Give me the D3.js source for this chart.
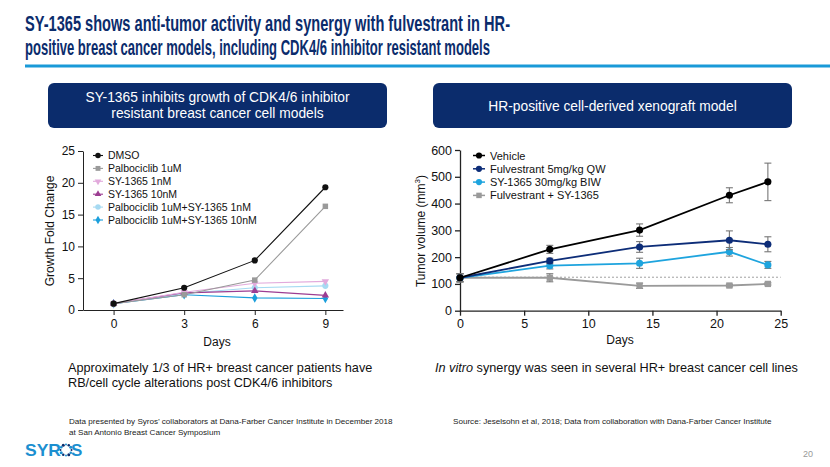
<!DOCTYPE html>
<html><head><meta charset="utf-8">
<script src="https://cdn.jsdelivr.net/npm/d3@7"></script>
<style>
html,body{margin:0;padding:0;background:#fff;}
svg{display:block;font-family:"Liberation Sans",Arial,sans-serif;}
</style></head>
<body>
<svg id="c" width="830" height="467"></svg>
<script>
// ---------- data ----------
const leftDays = [0, 3, 6, 9];
const leftSeriesNames = ["DMSO", "Palbociclib 1uM", "SY-1365 1nM", "SY-1365 10nM", "Palbociclib 1uM+SY-1365 1nM", "Palbociclib 1uM+SY-1365 10nM"];
const dmso = [1, 3.5, 7.8, 19.3];
const palbo = [1, 2.4, 4.7, 16.3];
const sy1nM = [1, 2.8, 4.2, 4.5];
const sy10nM = [1, 2.7, 3.0, 2.3];
const combo1nM = [1, 2.6, 3.5, 3.8];
const combo10nM = [1, 2.4, 1.9, 1.8];
const leftYTicks = [0, 5, 10, 15, 20, 25];
const leftXTicks = [0, 3, 6, 9];

const rightDays = [0, 7, 14, 21, 24];
const rightSeriesNames = ["Vehicle", "Fulvestrant 5mg/kg QW", "SY-1365 30mg/kg BIW", "Fulvestrant + SY-1365"];
const vehicle = [123, 229, 301, 431, 481];
const vehicleErr = [15, 15, 23, 28, 70];
const fulv = [123, 186, 238, 263, 248];
const fulvErr = [15, 10, 20, 35, 28];
const sy30 = [123, 168, 177, 220, 171];
const sy30Err = [15, 12, 19, 16, 13];
const combo = [123, 123, 93, 94, 100];
const comboErr = [15, 15, 10, 5, 4];
const baseline = 125;
const rightYTicks = [0, 100, 200, 300, 400, 500, 600];
const rightXTicks = [0, 5, 10, 15, 20, 25];

// ---------- drawing ----------
const svg = d3.select("#c");
svg.append("rect").attr("width", 830).attr("height", 467).attr("fill", "#fff");

const navy = "#0b2c6c";
// title
const titleLines = ["SY-1365 shows anti-tumor activity and synergy with fulvestrant in HR-",
                    "positive breast cancer models, including CDK4/6 inhibitor resistant models"];
const titleW = [485, 465];
titleLines.forEach((t, i) => {
  svg.append("text").attr("x", 25).attr("y", 30.5 + i * 24.5)
    .attr("font-size", 21.5).attr("font-weight", "bold").attr("fill", navy)
    .attr("textLength", titleW[i]).attr("lengthAdjust", "spacingAndGlyphs")
    .text(t);
});
svg.append("rect").attr("x", 25).attr("y", 64.5).attr("width", 805).attr("height", 3).attr("fill", "#1a9ad8");

// header boxes
function header(x, w, lines, ys) {
  svg.append("rect").attr("x", x).attr("y", 83).attr("width", w).attr("height", 45)
    .attr("rx", 6).attr("fill", navy);
  lines.forEach((t, i) => svg.append("text").attr("x", x + w / 2).attr("y", ys[i])
    .attr("text-anchor", "middle").attr("fill", "#fff").attr("font-size", 13.8).text(t));
}
header(48, 339, ["SY-1365 inhibits growth of CDK4/6 inhibitor", "resistant breast cancer cell models"], [101.5, 118]);
header(433, 359, ["HR-positive cell-derived xenograft model"], [111]);

// ---------- left chart ----------
const xL = d3.scaleLinear().domain([-1.3, 9.75]).range([83, 343]);
const yL = d3.scaleLinear().domain([0, 25]).range([310, 151]);
const gL = svg.append("g");
const axL = gL.append("g").attr("transform", "translate(0,310)")
  .call(d3.axisBottom(xL).tickValues(leftXTicks).tickSize(5).tickSizeOuter(0).tickPadding(4));
const ayL = gL.append("g").attr("transform", "translate(83,0)")
  .call(d3.axisLeft(yL).tickValues(leftYTicks).tickSize(5).tickSizeOuter(0).tickPadding(3));
[axL, ayL].forEach(a => {
  a.selectAll("path,line").attr("stroke", "#222").attr("stroke-width", 1);
  a.selectAll("text").attr("font-size", 12).attr("fill", "#111").attr("font-family", "Liberation Sans, Arial, sans-serif");
});
gL.append("text").attr("x", 217).attr("y", 346).attr("text-anchor", "middle").attr("font-size", 12).attr("fill", "#111").text("Days");
gL.append("text").attr("transform", "translate(54,231) rotate(-90)").attr("text-anchor", "middle")
  .attr("font-size", 12).attr("fill", "#111").text("Growth Fold Change");

const leftData = [dmso, palbo, sy1nM, sy10nM, combo1nM, combo10nM];
const leftColors = ["#111111", "#9a9a9a", "#e2aadc", "#9c3d92", "#a6daf2", "#1b9fdc"];
const leftSymbols = [d3.symbolCircle, d3.symbolSquare, d3.symbolTriangle, d3.symbolTriangle, d3.symbolCircle, d3.symbolDiamond];
const leftRot = [0, 0, 180, 0, 0, 0];
const leftSize = [30, 30, 24, 24, 30, 26];
const lineL = d3.line().x((d, i) => xL(leftDays[i])).y(d => yL(d));
// draw in reverse so DMSO on top
for (let k = leftData.length - 1; k >= 0; k--) {
  const vals = leftData[k];
  gL.append("path").attr("d", lineL(vals)).attr("fill", "none").attr("stroke", leftColors[k]).attr("stroke-width", 1.1);
  vals.forEach((v, i) => {
    gL.append("path").attr("d", d3.symbol(leftSymbols[k], leftSize[k])())
      .attr("transform", `translate(${xL(leftDays[i])},${yL(v)}) rotate(${leftRot[k]})`)
      .attr("fill", leftColors[k]);
  });
}
// legend left
leftSeriesNames.forEach((n, k) => {
  const y = 155.5 + k * 12.9;
  gL.append("line").attr("x1", 93).attr("x2", 103).attr("y1", y).attr("y2", y).attr("stroke", leftColors[k]).attr("stroke-width", 1.1);
  gL.append("path").attr("d", d3.symbol(leftSymbols[k], leftSize[k] * 0.8)())
    .attr("transform", `translate(98,${y}) rotate(${leftRot[k]})`).attr("fill", leftColors[k]);
  gL.append("text").attr("x", 108).attr("y", y + 3.8).attr("font-size", 10.5).attr("fill", "#111").text(n);
});

// ---------- right chart ----------
const xR = d3.scaleLinear().domain([0, 25]).range([460, 780.7]);
const yR = d3.scaleLinear().domain([0, 600]).range([310.7, 150]);
const gR = svg.append("g");
const axR = gR.append("g").attr("transform", "translate(0,310.7)")
  .call(d3.axisBottom(xR).tickValues(rightXTicks).tickSize(5).tickSizeOuter(0).tickPadding(3));
const ayR = gR.append("g").attr("transform", "translate(460,0)")
  .call(d3.axisLeft(yR).tickValues(rightYTicks).tickSize(5).tickSizeOuter(0).tickPadding(3));
[axR, ayR].forEach(a => {
  a.selectAll("path,line").attr("stroke", "#222").attr("stroke-width", 1.3);
  a.selectAll("text").attr("font-size", 12.5).attr("fill", "#111").attr("font-family", "Liberation Sans, Arial, sans-serif");
});
gR.append("text").attr("x", 620).attr("y", 344).attr("text-anchor", "middle").attr("font-size", 12).attr("fill", "#111").text("Days");
const yt = gR.append("text").attr("transform", "translate(425,231) rotate(-90)").attr("text-anchor", "middle")
  .attr("font-size", 12).attr("fill", "#111");
yt.append("tspan").text("Tumor volume (mm");
yt.append("tspan").attr("font-size", 8).attr("dy", -5).text("3");
yt.append("tspan").attr("dy", 5).text(")");

// dashed baseline
gR.append("line").attr("x1", xR(0)).attr("x2", xR(25)).attr("y1", yR(baseline)).attr("y2", yR(baseline))
  .attr("stroke", "#888").attr("stroke-width", 0.8).attr("stroke-dasharray", "2,2");

const rightData = [vehicle, fulv, sy30, combo];
const rightErr = [vehicleErr, fulvErr, sy30Err, comboErr];
const rightColors = ["#000000", "#0d2d78", "#1ea4de", "#9a9a9a"];
const rightSymbols = [d3.symbolCircle, d3.symbolCircle, d3.symbolCircle, d3.symbolSquare];
const lineR = d3.line().x((d, i) => xR(rightDays[i])).y(d => yR(d));
for (let k = rightData.length - 1; k >= 0; k--) {
  const vals = rightData[k], errs = rightErr[k];
  gR.append("path").attr("d", lineR(vals)).attr("fill", "none").attr("stroke", rightColors[k]).attr("stroke-width", 1.8);
  vals.forEach((v, i) => {
    const cx = xR(rightDays[i]);
    const ecol = "#777";
    gR.append("line").attr("x1", cx).attr("x2", cx).attr("y1", yR(v - errs[i])).attr("y2", yR(v + errs[i])).attr("stroke", ecol).attr("stroke-width", 1.1);
    [v - errs[i], v + errs[i]].forEach(e => gR.append("line").attr("x1", cx - 3.5).attr("x2", cx + 3.5).attr("y1", yR(e)).attr("y2", yR(e)).attr("stroke", ecol).attr("stroke-width", 1.1));
    gR.append("path").attr("d", d3.symbol(rightSymbols[k], 40)()).attr("transform", `translate(${cx},${yR(v)})`).attr("fill", rightColors[k]);
  });
}
rightSeriesNames.forEach((n, k) => {
  const y = 155.5 + k * 13.3;
  gR.append("line").attr("x1", 473).attr("x2", 485).attr("y1", y).attr("y2", y).attr("stroke", rightColors[k]).attr("stroke-width", 1.5);
  gR.append("path").attr("d", d3.symbol(rightSymbols[k], 30)()).attr("transform", `translate(479,${y})`).attr("fill", rightColors[k]);
  gR.append("text").attr("x", 490).attr("y", y + 4).attr("font-size", 11).attr("fill", "#111").text(n);
});

// ---------- captions ----------
svg.append("text").attr("x", 68).attr("y", 372).attr("font-size", 12.7).attr("fill", "#111").text("Approximately 1/3 of HR+ breast cancer patients have");
svg.append("text").attr("x", 68).attr("y", 387).attr("font-size", 12.7).attr("fill", "#111").text("RB/cell cycle alterations post CDK4/6 inhibitors");
const iv = svg.append("text").attr("x", 435).attr("y", 372).attr("font-size", 12.7).attr("fill", "#111");
iv.append("tspan").attr("font-style", "italic").text("In vitro");
iv.append("tspan").text(" synergy was seen in several HR+ breast cancer cell lines");

// footnotes
svg.append("text").attr("x", 69).attr("y", 424).attr("font-size", 8.1).attr("fill", "#222").text("Data presented by Syros’ collaborators at Dana-Farber Cancer Institute in December 2018");
svg.append("text").attr("x", 69).attr("y", 434.5).attr("font-size", 8.1).attr("fill", "#222").text("at San Antonio Breast Cancer Symposium");
svg.append("text").attr("x", 453).attr("y", 424).attr("font-size", 8.1).attr("fill", "#222").text("Source: Jeselsohn et al, 2018; Data from collaboration with Dana-Farber Cancer Institute");
svg.append("text").attr("x", 813).attr("y", 457).attr("text-anchor", "end").attr("font-size", 9).attr("fill", "#999").text("20");

// logo
const logo = svg.append("g");
logo.append("text").attr("x", 25).attr("y", 456).attr("font-size", 17).attr("font-weight", "bold").attr("fill", "#1c8fd0")
  .attr("textLength", 36).attr("lengthAdjust", "spacingAndGlyphs").text("SYR");
logo.append("text").attr("x", 71).attr("y", 456).attr("font-size", 17).attr("font-weight", "bold").attr("fill", "#1c8fd0").text("S");
const dots = d3.range(12).map(i => i);
dots.forEach(i => {
  const a = i / 12 * 2 * Math.PI;
  logo.append("circle").attr("cx", 66 + 5.5 * Math.cos(a)).attr("cy", 450 + 5.5 * Math.sin(a))
    .attr("r", 1 + 0.5 * ((i % 3) / 2)).attr("fill", i % 2 ? "#1c8fd0" : "#0b2c6c");
});
</script>
</body></html>
